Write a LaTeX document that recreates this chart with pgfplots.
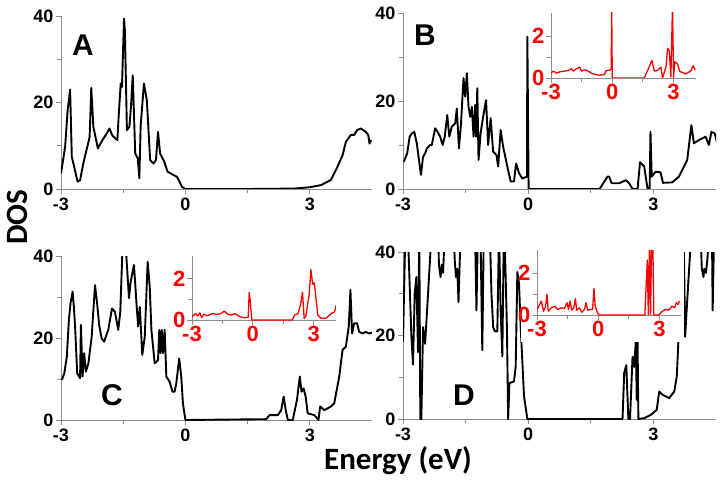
\documentclass[border=0pt]{standalone}
\usepackage{fontspec}
\setmainfont{Liberation Sans}
\newfontfamily\calib{Carlito}
\usepackage{pgfplots}
\pgfplotsset{compat=1.18}

\definecolor{axgray}{RGB}{140,140,140}
\definecolor{insred}{RGB}{255,0,0}

\pgfplotsset{
  base/.style={scale only axis, anchor=south west,
    axis x line*=bottom, axis y line*=left,
    axis line style={axgray, line width=0.9pt, -},
    tick align=outside, major tick length=5pt, minor tick length=4pt,
    every tick/.style={axgray, line width=0.9pt},
    xtick={-3,0,3}, xticklabels={-3,0,3}, minor xtick={-1.5,1.5},
    xmin=-3, ymin=0},
  mainax/.style={base, xmax=4.5, ymax=40,
    ytick={0,20,40}, yticklabels={0,20,40}, minor ytick={10,30},
    yticklabel style={xshift=1pt},
    ticklabel style={font=\bfseries\fontsize{18}{18}\selectfont, text=black}},
  inax/.style={base, xmax=4.1, ymax=3.1, width=145pt, height=65pt,
    ytick={0,2}, yticklabels={0,2}, minor ytick={1},
    xticklabel style={yshift=2pt}, yticklabel style={xshift=2pt},
    ticklabel style={font=\bfseries\fontsize{22}{22}\selectfont, text=insred}},
  dos/.style={black, line width=1.9pt, line join=round},
  red/.style={insred, line width=1.3pt, line join=round},
}

\begin{document}
\begin{tikzpicture}
\useasboundingbox (0,0) rectangle (723pt,485pt);

% ---- A ----
\begin{axis}[mainax, at={(61pt,296pt)}, width=311pt, height=173pt]
\addplot[dos] coordinates {
(-3,3.6) (-2.90,9.8) (-2.84,18.2) (-2.78,23) (-2.74,7.5) (-2.60,1.7) (-2.54,2)
(-2.46,6) (-2.36,10) (-2.31,12) (-2.27,23.4) (-2.22,14.4) (-2.11,9.4) (-2.02,11)
(-1.90,12.8) (-1.83,14) (-1.77,12.5) (-1.69,11.7) (-1.64,11.3) (-1.61,16.7)
(-1.56,24.4) (-1.53,23.6) (-1.48,39.4) (-1.46,36.7) (-1.41,13.6) (-1.35,14.4)
(-1.31,19.4) (-1.27,26.3) (-1.21,8.2) (-1.15,7.1) (-1.11,2.5) (-1.08,14.4)
(-1.00,24.4) (-0.93,20.5) (-0.85,6.7) (-0.77,5.9) (-0.71,6.7) (-0.66,13.2)
(-0.61,8.2) (-0.51,6.3) (-0.43,4) (-0.28,3.2) (-0.20,2.8) (-0.08,0.5) (0,0)
(1.5,0) (2.62,0.1) (3.0,0.4) (3.27,0.9) (3.51,2.1) (3.67,5.2) (3.79,7.8)
(3.87,10.9) (3.99,12.5) (4.07,12.5) (4.14,13.6) (4.23,14) (4.35,13.2)
(4.41,12.5) (4.44,10.5) (4.48,11.3)
};
\end{axis}
\node[font=\bfseries\fontsize{30}{30}\selectfont] at (83pt,440pt) {A};

% ---- B ----
\begin{axis}[mainax, at={(403pt,296pt)}, width=313pt, height=176pt]
\addplot[dos] coordinates {
(-2.98,6.2) (-2.90,8.1) (-2.84,11.9) (-2.79,12.6) (-2.73,13) (-2.67,10.4)
(-2.60,5.4) (-2.57,3.2) (-2.52,7.3) (-2.47,8.1) (-2.43,9.2) (-2.35,10) (-2.31,10)
(-2.23,13.8) (-2.17,13) (-2.11,11.9) (-2.05,10) (-2.00,11.9) (-1.94,16.8)
(-1.89,11.9) (-1.83,14.2) (-1.75,14.9) (-1.71,18.3) (-1.66,9.2) (-1.61,14.9)
(-1.55,25.2) (-1.51,21) (-1.47,26.3) (-1.43,18.7) (-1.39,16.4) (-1.35,18.7)
(-1.31,11.9) (-1.27,19.1) (-1.25,11.9) (-1.22,22.9) (-1.19,6.6) (-1.14,12.7)
(-1.08,16.4) (-1.01,20.2) (-0.96,10) (-0.90,16.1) (-0.84,8.5) (-0.76,7.7)
(-0.72,5.1) (-0.66,13.4) (-0.60,9.6) (-0.50,5.1) (-0.42,1.7) (-0.34,1.7)
(-0.29,5.8) (-0.22,3.6) (-0.14,2.4) (-0.03,2.8) (-0.02,34.6) (0.01,0)
(1.71,0) (1.90,2.8) (1.94,2.8) (2.00,1.3) (2.18,1.3) (2.34,2.0) (2.42,1.3)
(2.50,0) (2.62,0) (2.68,6.1) (2.78,5.1) (2.86,0) (2.91,0) (2.93,13) (2.96,2.8)
(3.05,3.9) (3.17,3.8) (3.23,1.4) (3.45,1.5) (3.61,2.8) (3.81,6.6) (3.91,14.5)
(3.97,10.4) (4.09,11.1) (4.25,11.9) (4.33,10) (4.39,13) (4.47,12.6) (4.53,10.4)
};
\end{axis}
\node[font=\bfseries\fontsize{30}{30}\selectfont] at (425pt,450pt) {B};
\fill[white] (533pt,385pt) rectangle (702pt,476pt);
\begin{axis}[inax, at={(551pt,407pt)}]
\addplot[red] coordinates {
(-3,0.23) (-2.89,0.33) (-2.72,0.23) (-2.56,0.3) (-2.32,0.33) (-2.16,0.36)
(-2.0,0.44) (-1.91,0.33) (-1.75,0.44) (-1.59,0.52) (-1.51,0.33) (-1.35,0.39)
(-1.18,0.33) (-1.02,0.23) (-0.86,0.17) (-0.62,0.13) (-0.38,0.17) (-0.30,0.36)
(-0.14,0.36) (-0.05,0.44) (-0.03,3.5) (0.0,0) (1.57,0) (1.73,0.36) (1.94,0.83)
(2.06,0.33) (2.22,0.36) (2.38,0.52) (2.46,0) (2.63,0.52) (2.71,1.42) (2.79,1.3)
(2.87,0.05) (2.95,3.5) (3.0,0) (3.06,0.78) (3.19,0.67) (3.31,0.31) (3.6,0.2)
(3.84,0.33) (3.96,0.59) (4.05,0.39)
};
\end{axis}

% ---- C ----
\begin{axis}[mainax, at={(61pt,65pt)}, width=311pt, height=164pt]
\addplot[dos] coordinates {
(-2.98,9.8) (-2.92,11.4) (-2.86,15.4) (-2.81,24.4) (-2.77,28.5) (-2.72,31.3)
(-2.69,27.6) (-2.66,22.8) (-2.61,11.4) (-2.54,10.2) (-2.52,23.2) (-2.48,10.6)
(-2.44,16.3) (-2.40,11.8) (-2.34,13.8) (-2.26,20.3) (-2.18,32.9) (-2.13,28.5)
(-2.08,23.2) (-2.02,19.9) (-1.96,19.1) (-1.86,22) (-1.77,27.2) (-1.70,26.4)
(-1.62,22) (-1.57,26.4) (-1.51,44) (-1.45,44) (-1.36,29.7) (-1.32,33.7)
(-1.24,37.8) (-1.18,28.5) (-1.14,22.8) (-1.10,27.6) (-1.04,15.9) (-0.98,20.3)
(-0.91,38.6) (-0.86,32.5) (-0.82,22) (-0.74,13.8) (-0.66,14.6) (-0.63,22)
(-0.60,16.3) (-0.57,22) (-0.54,16.3) (-0.50,22) (-0.46,10.6) (-0.38,9.3)
(-0.31,6.9) (-0.26,6.9) (-0.22,8.9) (-0.15,15) (-0.10,10.6) (-0.06,4.1) (0,0)
(1.95,0.2) (2.03,1.2) (2.23,1.2) (2.31,2.4) (2.37,5.7) (2.42,2.4) (2.47,0)
(2.59,0) (2.69,4.9) (2.76,10.6) (2.80,6.9) (2.85,7.7) (2.90,5.7) (2.95,1.6)
(3.11,1.2) (3.21,0) (3.25,3.3) (3.35,2.4) (3.51,3.3) (3.59,4.1) (3.71,10.6)
(3.79,17.1) (3.87,17.9) (3.94,22.8) (3.98,31.7) (4.02,21.1) (4.07,23.6)
(4.14,23.6) (4.19,21.5) (4.27,21.1) (4.35,21.5) (4.43,21.1) (4.5,21.3)
};
\end{axis}
\node[font=\bfseries\fontsize{30}{30}\selectfont] at (112pt,90pt) {C};
\fill[white] (178pt,136pt) rectangle (340pt,232pt);
\begin{axis}[inax, at={(192pt,165pt)}, width=144pt, height=64pt]
\addplot[red] coordinates {
(-3.0,0.16) (-2.83,0.31) (-2.72,0.2) (-2.61,0.35) (-2.53,0.11) (-2.41,0.28)
(-2.25,0.2) (-2.0,0.31) (-1.74,0.27) (-1.58,0.31) (-1.41,0.43) (-1.24,0.28)
(-1.07,0.24) (-0.87,0.31) (-0.65,0.16) (-0.4,0.11) (-0.23,0.13) (-0.18,1.34)
(-0.13,0.94) (-0.05,0) (0.03,0) (1.95,0) (2.06,0.24) (2.23,0.31) (2.36,0.79)
(2.45,1.34) (2.53,0.08) (2.61,0.16) (2.78,1.26) (2.86,2.44) (2.95,1.73)
(3.03,1.81) (3.11,1.1) (3.2,0.24) (3.36,0.08) (3.61,0.08) (3.86,0.31)
(4.03,0.39) (4.11,0.71)
};
\end{axis}

% ---- D ----
\begin{axis}[mainax, at={(403pt,66pt)}, width=313pt, height=167pt]
\addplot[dos] coordinates {
(-3.00,18.5) (-2.95,42) (-2.88,44) (-2.80,20) (-2.76,13) (-2.72,30) (-2.68,34)
(-2.64,16) (-2.61,45) (-2.585,0) (-2.56,0) (-2.52,22) (-2.47,18) (-2.40,30)
(-2.34,40.5) (-2.30,48) (-2.16,48) (-2.14,37) (-2.10,34) (-2.07,37) (-2.04,35)
(-2.01,42) (-1.80,48) (-1.76,38) (-1.73,34) (-1.70,36) (-1.67,28) (-1.64,38)
(-1.60,48) (-1.28,48) (-1.24,26) (-1.20,48) (-1.14,42) (-1.10,16.5) (-1.06,48)
(-0.92,45) (-0.88,30) (-0.84,22) (-0.80,21) (-0.74,21) (-0.70,45) (-0.66,26)
(-0.62,15) (-0.58,48) (-0.54,34) (-0.51,22) (-0.48,0) (-0.45,8.6) (-0.34,9)
(-0.30,12.5) (-0.26,35.2) (-0.22,32.4) (-0.18,22) (-0.10,5.4) (-0.02,0)
(2.26,0) (2.30,11) (2.35,12.9) (2.40,0) (2.44,0) (2.50,14.9) (2.54,12.5)
(2.58,18.9) (2.60,4.6) (2.62,18.9) (2.64,0) (2.78,0.2) (2.94,1) (3.08,2.2)
(3.14,6.6) (3.22,5.8) (3.38,5) (3.50,6.6) (3.56,10.2) (3.60,18.9) (3.64,48)
(3.72,48) (3.76,19.7) (3.82,30) (3.88,40) (3.92,48) (4.12,48) (4.16,36)
(4.20,34) (4.22,36) (4.26,35) (4.30,39) (4.34,48) (4.40,48) (4.42,26) (4.46,48)
(4.5,48)
};
\end{axis}
\node[font=\bfseries\fontsize{30}{30}\selectfont] at (464pt,90pt) {D};
\fill[white] (521pt,143pt) rectangle (684pt,238pt);
\begin{axis}[inax, at={(537pt,170pt)}, width=144pt, height=65pt, xmax=4.05]
\addplot[red] coordinates {
(-3.0,0.26) (-2.87,0.5) (-2.79,0.67) (-2.68,0.18) (-2.58,0.42) (-2.51,0.99)
(-2.45,0.18) (-2.30,0.34) (-2.14,0.42) (-1.98,0.26) (-1.82,0.34) (-1.66,0.31)
(-1.53,0.59) (-1.46,0.26) (-1.38,0.67) (-1.30,0.23) (-1.2,0.34) (-1.12,0.78)
(-1.06,0.23) (-0.92,0.34) (-0.81,0.13) (-0.68,0.26) (-0.6,0.59) (-0.52,0.23)
(-0.41,0.26) (-0.28,0.26) (-0.21,1.27) (-0.15,0.42) (-0.03,0.07) (0.05,0)
(2.28,0) (2.40,2.62) (2.45,0) (2.51,3.5) (2.56,0) (2.61,3.5) (2.67,3.5)
(2.72,0) (2.97,0) (3.13,0.18) (3.29,0.26) (3.45,0.23) (3.61,0.42) (3.74,0.34)
(3.82,0.59) (3.9,0.5) (3.97,0.67)
};
\end{axis}

% ---- shared labels ----
\node[rotate=90, font=\calib\bfseries\fontsize{31}{31}\selectfont] at (17pt,268pt) {DOS};
\node[font=\calib\bfseries\fontsize{31}{31}\selectfont] at (398pt,24pt) {Energy (eV)};
\end{tikzpicture}
\end{document}
